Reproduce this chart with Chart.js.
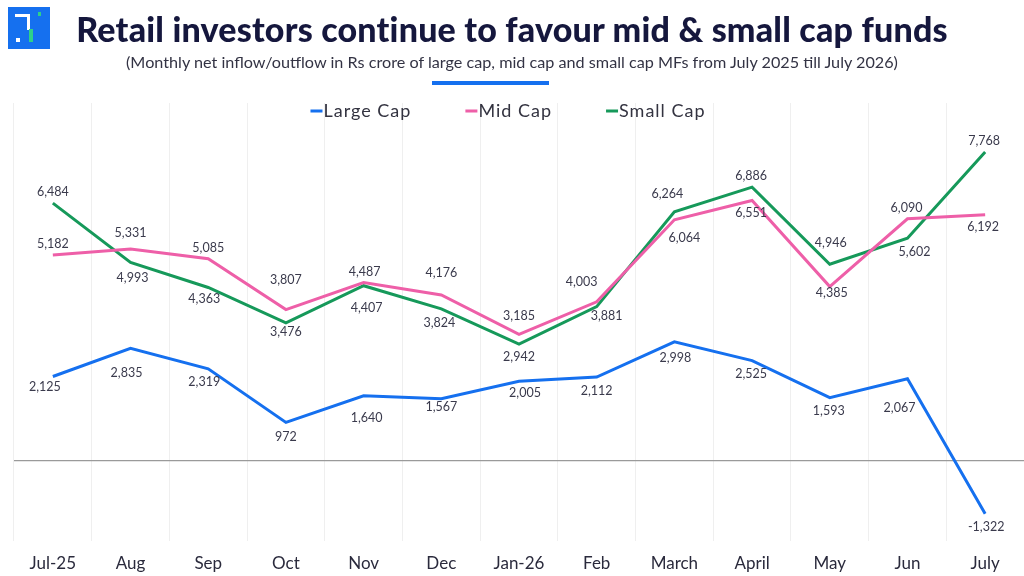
<!DOCTYPE html>
<html>
<head>
<meta charset="utf-8">
<script src="https://cdn.jsdelivr.net/npm/chart.js@4.4.1/dist/chart.umd.min.js"></script>
<style>
  html, body { margin: 0; padding: 0; background: #fff; }
  body { width: 1024px; height: 576px; position: relative; overflow: hidden; font-family: Lato, "Noto Sans", sans-serif; }
  #logo { position: absolute; left: 8px; top: 7px; width: 42px; height: 42px; background: #1570ef; }
  #logo span { position: absolute; display: block; }
  #title { position: absolute; left: 0; width: 1024px; top: 8px; text-align: center; font-size: 34px; font-weight: 900; color: #15173d; letter-spacing: 0.2px; }
  #subtitle { position: absolute; left: 0; width: 1024px; top: 52px; text-align: center; font-size: 16.2px; color: #333344; }
  #underline { position: absolute; left: 432px; top: 81px; width: 117px; height: 4px; background: #1570ef; }
  #wrap { position: absolute; left: 0; top: 0; width: 1024px; height: 589px; }
</style>
</head>
<body>
<div id="wrap"><canvas id="chart"></canvas></div>
<div id="logo">
  <span style="left:7px;top:7px;width:15px;height:3px;background:#fff"></span>
  <span style="left:19px;top:7px;width:3px;height:16px;background:#fff"></span>
  <span style="left:8px;top:31px;width:4px;height:4px;background:#fff"></span>
  <span style="left:30px;top:5px;width:3px;height:4px;background:#2ed18a"></span>
  <span style="left:21px;top:22px;width:4px;height:13px;background:#2ed18a"></span>
</div>
<div id="title">Retail investors continue to favour mid &amp; small cap funds</div>
<div id="subtitle">(Monthly net inflow/outflow in Rs crore of large cap, mid cap and small cap MFs from July 2025 till July 2026)</div>
<div id="underline"></div>
<script>
const months = ['Jul-25', 'Aug', 'Sep', 'Oct', 'Nov', 'Dec', 'Jan-26', 'Feb', 'March', 'April', 'May', 'Jun', 'July'];
const largeCap = [2125, 2835, 2319, 972, 1640, 1567, 2005, 2112, 2998, 2525, 1593, 2067, -1322];
const midCap = [5182, 5331, 5085, 3807, 4487, 4176, 3185, 4003, 6064, 6551, 4385, 6090, 6192];
const smallCap = [6484, 4993, 4363, 3476, 4407, 3824, 2942, 3881, 6264, 6886, 4946, 5602, 7768];

// label offsets from each point, in px [dx, dy]
const largeLabelPos = [[-8, 10], [-4, 25], [-4, 13], [0, 15], [3, 22], [0, 8], [6, 12], [0, 14], [1, 16], [-1, 13], [-1, 13], [-8, 29], [1, 13]];
const midLabelPos = [[0, -11], [0, -16], [0, -11], [0, -30], [1, -11], [0, -22], [0, -18], [-15, -20], [10, 18], [-1, 13], [2, 6], [-1, -11], [-2, 12]];
const smallLabelPos = [[0, -11], [2, 16], [-4, 12], [0, 9], [3, 22], [-2, 14], [0, 13], [10, 9], [-7, -18], [-1, -11], [1, -21], [7, 14], [-1, -11]];

const BLUE = '#1570ef';
const PINK = '#ee5fa8';
const GREEN = '#16995a';
const FONT = 'Lato, "Noto Sans", sans-serif';

const pointLabels = {
    id: 'pointLabels',
    afterDatasetsDraw(chart) {
        const ctx = chart.ctx;
        ctx.save();
        ctx.font = '12.5px ' + FONT;
        ctx.fillStyle = '#3a3a4c';
        ctx.textAlign = 'center';
        ctx.textBaseline = 'middle';
        chart.data.datasets.forEach((ds, i) => {
            const meta = chart.getDatasetMeta(i);
            meta.data.forEach((pt, j) => {
                const off = ds.labelPos[j];
                ctx.fillText(ds.data[j].toLocaleString('en-US'), pt.x + off[0], pt.y + off[1]);
            });
        });
        ctx.restore();
    }
};

const lineLegend = {
    id: 'lineLegend',
    afterDraw(chart) {
        const ctx = chart.ctx;
        ctx.save();
        ctx.font = '18px ' + FONT;
        if ('letterSpacing' in ctx) ctx.letterSpacing = '1px';
        ctx.textBaseline = 'middle';
        const items = chart.data.datasets.map(ds => ({ text: ds.label, color: ds.borderColor, w: 13 + ctx.measureText(ds.label).width }));
        const gap = 54;
        const total = items.reduce((s, it) => s + it.w, 0) + gap * (items.length - 1);
        let x = 508 - total / 2;
        const y = 111;
        items.forEach(it => {
            ctx.fillStyle = it.color;
            ctx.fillRect(x, y - 1.5, 12, 3);
            ctx.fillStyle = '#333340';
            ctx.fillText(it.text, x + 13, y);
            x += it.w + gap;
        });
        ctx.restore();
    }
};

const makeSeries = (label, data, color, labelPos) => ({
    label, data, labelPos,
    borderColor: color,
    backgroundColor: color,
    borderWidth: 3,
    pointRadius: 0,
    tension: 0,
    fill: false
});

new Chart(document.getElementById('chart'), {
    type: 'line',
    data: {
        labels: months,
        datasets: [
            makeSeries('Large Cap', largeCap, BLUE, largeLabelPos),
            makeSeries('Mid Cap', midCap, PINK, midLabelPos),
            makeSeries('Small Cap', smallCap, GREEN, smallLabelPos)
        ]
    },
    options: {
        responsive: true,
        maintainAspectRatio: false,
        animation: false,
        layout: { padding: { top: 103, left: 14, right: 0, bottom: 2 } },
        plugins: {
            legend: { display: false },
            tooltip: { enabled: false }
        },
        scales: {
            x: {
                offset: true,
                grid: { offset: true, color: '#efefef', drawTicks: false },
                border: { display: false },
                ticks: { color: '#2a2a3c', font: { family: FONT, size: 17 }, padding: 13 }
            },
            y: {
                min: -2000,
                max: 9000,
                grid: {
                    drawTicks: false,
                    color: ctx => ctx.tick.value === 0 ? '#9a9a9a' : 'rgba(0,0,0,0)',
                    lineWidth: 1.2
                },
                border: { display: false },
                ticks: { display: false, stepSize: 1000 }
            }
        }
    },
    plugins: [pointLabels, lineLegend]
});
</script>
</body>
</html>
